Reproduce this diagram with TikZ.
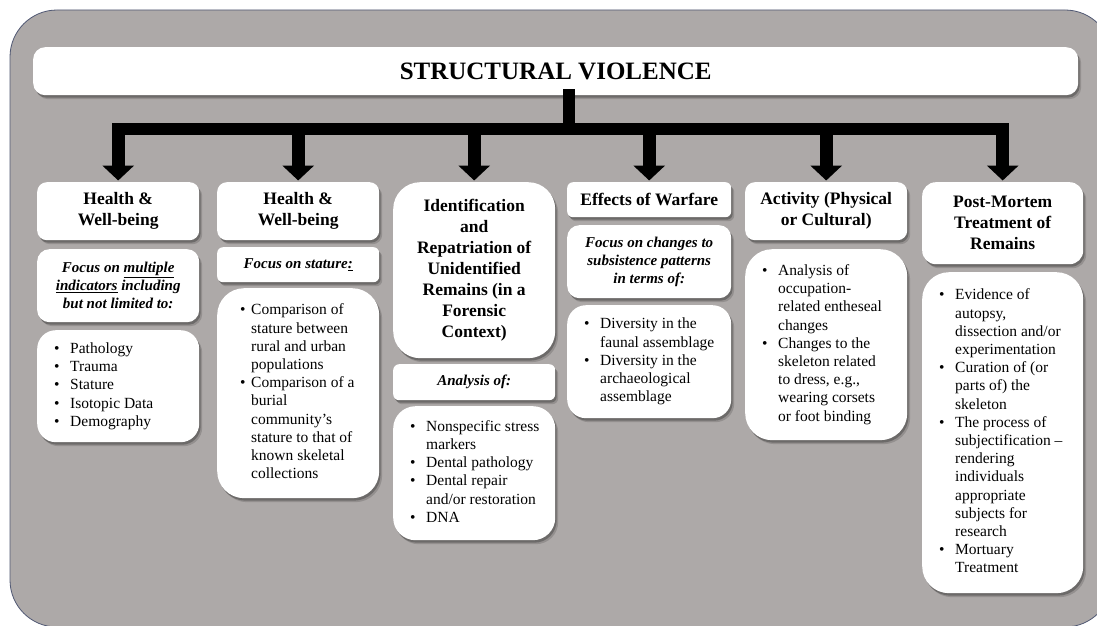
\documentclass[tikz,border=0pt]{standalone}
\usepackage{fontspec}
\setmainfont{Liberation Serif}
\usetikzlibrary{shadows,arrows.meta}
\definecolor{bggray}{RGB}{173,169,168}
\definecolor{bgedge}{RGB}{80,88,115}
\newcommand\bul{\makebox[16pt][l]{\textbullet}}
\newcommand\ind{\hspace*{16pt}}
\newcommand\mkbox[7]{%
  \pgfmathsetmacro\bw{#4-#2}%
  \pgfmathsetmacro\bh{#5-#3}%
  \pgfmathsetmacro\br{min(\bw,\bh)/6}%
  \pgfmathsetmacro\tw{\bw-34}%
  \node[card,rounded corners=\br pt,#6,minimum width=\bw pt,minimum height=\bh pt,anchor=north west] (#1) at (#2,#3) {#7};}
\newcommand\mklist[6]{%
  \pgfmathsetmacro\bw{#4-#2}%
  \pgfmathsetmacro\tw{\bw-34}%
  \mkbox{#1}{#2}{#3}{#4}{#5}{list}{\makebox[\tw pt][l]{\begin{tabular}{@{}l@{}}#6\end{tabular}}}}
\tikzset{
  card/.style={fill=white,draw=none,
    drop shadow={shadow xshift=3pt,shadow yshift=-4pt,opacity=0.15,fill=black},
    drop shadow={shadow xshift=1.5pt,shadow yshift=-2.5pt,opacity=0.4,fill=black!80}},
  head/.style={align=center,font=\bfseries\fontsize{17.5}{21}\selectfont},
  focus/.style={align=center,font=\bfseries\itshape\fontsize{15}{18}\selectfont},
  list/.style={inner xsep=17pt,font=\fontsize{15.5}{18.2}\selectfont},
  titlest/.style={align=center,font=\bfseries\fontsize{25}{30}\selectfont,rounded corners=12pt},
  barline/.style={line width=12pt,black,line cap=rect},
  drop/.style={line width=13pt,black,-{Triangle[width=31pt,length=15pt]},shorten >=1.5pt}
}
\begin{document}
\begin{tikzpicture}[x=1pt,y=-1pt]
\useasboundingbox (0,0) rectangle (1097,626);
\clip (0,0) rectangle (1097,626);
\fill[white] (0,0) rectangle (1097,626);
\draw[fill=bggray,draw=bgedge,line width=0.8pt,rounded corners=47pt] (10,10) rectangle (1112,627);

\mkbox{title}{33}{47}{1078}{95}{titlest}{STRUCTURAL VIOLENCE}

\mkbox{c1a}{37}{182}{199}{240}{head}{Health \&\\Well-being}
\mkbox{c1b}{37}{249}{199}{322}{focus}{Focus on \underline{multiple}\\\underline{indicators} including\\but not limited to:}
\mklist{c1c}{37}{330}{199}{442}{\bul Pathology\\\bul Trauma\\\bul Stature\\\bul Isotopic Data\\\bul Demography}

\mkbox{c2a}{217}{182}{379}{240}{head}{Health \&\\Well-being}
\mkbox{c2b}{217}{247}{379}{282}{focus}{Focus on stature\underline{:}}
{\renewcommand\bul{\hspace*{6pt}\makebox[11pt][l]{\textbullet}}\renewcommand\ind{\hspace*{17pt}}%
\mklist{c2c}{217}{288}{379}{498}{\bul Comparison of\\\ind stature between\\\ind rural and urban\\\ind populations\\\bul Comparison of a\\\ind burial\\\ind community’s\\\ind stature to that of\\\ind known skeletal\\\ind collections}}

\mkbox{c3a}{393}{182}{555}{358}{head}{Identification\\and\\Repatriation of\\Unidentified\\Remains (in a\\Forensic\\Context)}
\mkbox{c3b}{393}{364}{555}{400}{focus}{Analysis of:}
\mklist{c3c}{393}{406}{555}{540}{\bul Nonspecific stress\\\ind markers\\\bul Dental pathology\\\bul Dental repair\\\ind and/or restoration\\\bul DNA}

\mkbox{c4a}{567}{182}{731}{217}{head}{Effects of Warfare}
\mkbox{c4b}{567}{225}{731}{298}{focus}{Focus on changes to\\subsistence patterns\\in terms of:}
\mklist{c4c}{567}{305}{731}{418}{\bul Diversity in the\\\ind faunal assemblage\\\bul Diversity in the\\\ind archaeological\\\ind assemblage}

\mkbox{c5a}{745}{182}{907}{240}{head}{Activity (Physical\\or Cultural)}
\mklist{c5b}{745}{249}{907}{440}{\bul Analysis of\\\ind occupation-\\\ind related entheseal\\\ind changes\\\bul Changes to the\\\ind skeleton related\\\ind to dress, e.g.,\\\ind wearing corsets\\\ind or foot binding}

\mkbox{c6a}{922}{182}{1083}{264}{head}{Post-Mortem\\Treatment of\\Remains}
\mklist{c6b}{922}{272}{1083}{593}{\bul Evidence of\\\ind autopsy,\\\ind dissection and/or\\\ind experimentation\\\bul Curation of (or\\\ind parts of) the\\\ind skeleton\\\bul The process of\\\ind subjectification –\\\ind rendering\\\ind individuals\\\ind appropriate\\\ind subjects for\\\ind research\\\bul Mortuary\\\ind Treatment}

\coordinate (hub) at (569,129);
\draw[barline] (title.south -| hub) -- (hub);
\draw[barline] (c1a.north |- hub) -- (c6a.north |- hub);
\foreach \n in {c1a,c2a,c3a,c4a,c5a,c6a}
  \draw[drop] (\n.north |- hub) -- (\n.north);
\end{tikzpicture}
\end{document}
